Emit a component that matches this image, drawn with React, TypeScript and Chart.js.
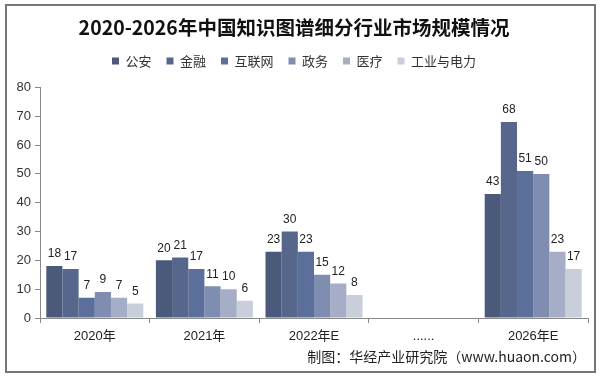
import React, { useEffect, useRef } from "react";
import { Chart, registerables } from "chart.js";

Chart.register(...registerables);

const categories = ["2020年", "2021年", "2022年E", "......", "2026年E"];
const seriesNames = ["公安", "金融", "互联网", "政务", "医疗", "工业与电力"];
const gongAn = [18, 20, 23, null, 43];
const jinRong = [17, 21, 30, null, 68];
const huLianWang = [7, 17, 23, null, 51];
const zhengWu = [9, 11, 15, null, 50];
const yiLiao = [7, 10, 12, null, 23];
const gongYe = [5, 6, 8, null, 17];
const seriesColors = ["#4b5a7b", "#56678b", "#5c6f9a", "#7f8db0", "#a5aec6", "#c9cedb"];
const yTicks = [0, 10, 20, 30, 40, 50, 60, 70, 80];
const titleText = "2020-2026年中国知识图谱细分行业市场规模情况";
const sourceText = "制图：华经产业研究院（www.huaon.com）";

const SANS = "'Liberation Sans', 'Noto Sans CJK SC', sans-serif";
const CJK = "'Noto Sans CJK SC', 'Liberation Sans', sans-serif";

export default function App() {
  const ref = useRef<HTMLCanvasElement | null>(null);
  useEffect(() => {
    if (!ref.current) return;
    const values = [gongAn, jinRong, huLianWang, zhengWu, yiLiao, gongYe];
    const frame = {
      id: "frame",
      beforeDraw(chart: any) {
        const ctx = chart.ctx;
        ctx.save();
        ctx.fillStyle = "#ffffff";
        ctx.fillRect(0, 0, chart.width, chart.height);
        ctx.strokeStyle = "#767676";
        ctx.lineWidth = 2;
        ctx.strokeRect(6, 5, 589, 367);
        ctx.restore();
      },
      afterDraw(chart: any) {
        const ctx = chart.ctx;
        ctx.save();
        ctx.fillStyle = "#222222";
        ctx.font = "14px " + CJK;
        ctx.textAlign = "right";
        ctx.textBaseline = "middle";
        ctx.fillText(sourceText, 586, 357);
        ctx.restore();
      },
    };
    const labelsPlugin = {
      id: "barLabels",
      afterDatasetsDraw(chart: any) {
        const ctx = chart.ctx;
        ctx.save();
        ctx.fillStyle = "#222222";
        ctx.font = "12px " + SANS;
        ctx.textAlign = "center";
        ctx.textBaseline = "bottom";
        chart.data.datasets.forEach((ds: any, i: number) => {
          const meta = chart.getDatasetMeta(i);
          meta.data.forEach((el: any, j: number) => {
            const v = ds.data[j];
            if (v === null || v === undefined) return;
            ctx.fillText(String(v), el.x, el.y - 6);
          });
        });
        ctx.restore();
      },
    };
    const legendSpace = {
      id: "legendSpace",
      beforeInit(chart: any) {
        const lg = chart.legend;
        if (!lg) return;
        const orig = lg.fit;
        lg.fit = function () {
          orig.call(this);
          this.height += 10;
        };
      },
    };
    const chart = new Chart(ref.current, {
      type: "bar",
      data: {
        labels: categories,
        datasets: seriesNames.map((name, i) => ({
          label: name,
          data: values[i],
          backgroundColor: seriesColors[i],
          borderWidth: 0,
          categoryPercentage: 0.885,
          barPercentage: 1,
        })),
      },
      options: {
        responsive: false,
        animation: false,
        layout: { padding: { left: 0, right: 12, top: 0, bottom: 0 } },
        plugins: {
          tooltip: { enabled: false },
          title: {
            display: true,
            text: titleText,
            color: "#111111",
            font: { family: CJK, size: 19.5, weight: "bold" },
            padding: { top: 16, bottom: 0 },
          },
          legend: {
            display: true,
            position: "top",
            labels: {
              boxWidth: 7,
              boxHeight: 7,
              padding: 15,
              color: "#333333",
              font: { family: CJK, size: 13 },
            },
          },
        },
        scales: {
          x: {
            offset: true,
            grid: {
              display: true,
              drawOnChartArea: false,
              drawTicks: true,
              tickLength: 5,
              color: "#8a8a8a",
              offset: true,
            },
            border: { display: true, color: "#8a8a8a", width: 1 },
            ticks: {
              color: "#222222",
              font: { family: SANS, size: 13 },
              padding: 6,
              maxRotation: 0,
              autoSkip: false,
            },
            afterFit(scale: any) {
              scale.height = 59;
            },
          },
          y: {
            min: 0,
            max: 80,
            afterBuildTicks(scale: any) {
              scale.ticks = yTicks.map((v) => ({ value: v }));
            },
            grid: {
              display: true,
              drawOnChartArea: false,
              drawTicks: true,
              tickLength: 5,
              color: "#8a8a8a",
            },
            border: { display: true, color: "#8a8a8a", width: 1 },
            ticks: {
              color: "#333333",
              font: { family: SANS, size: 13 },
              padding: 4,
            },
            afterFit(scale: any) {
              scale.width = 40;
            },
          },
        },
      },
      plugins: [frame, labelsPlugin, legendSpace],
    } as any);
    return () => chart.destroy();
  }, []);
  return (
    <div style={{ position: "fixed", left: 0, top: 0, width: 600, height: 377 }}>
      <canvas ref={ref} width={600} height={377} style={{ width: 600, height: 377, display: "block" }} />
    </div>
  );
}
